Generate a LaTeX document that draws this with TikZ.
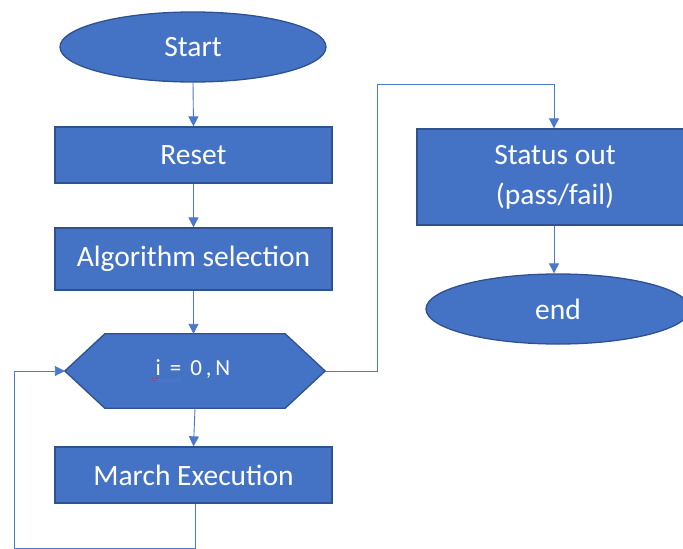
\documentclass[tikz,border=0pt]{standalone}
\usepackage{fontspec}
\setmainfont{Carlito}
\usetikzlibrary{shapes.geometric,arrows.meta}
\definecolor{fillblue}{HTML}{4472C4}
\definecolor{edgeblue}{HTML}{2F528F}
\definecolor{lineblue}{HTML}{4A78CA}
\tikzset{
  x=1pt,y=-1pt,
  box/.style={draw=edgeblue,line width=1.3pt,fill=fillblue,text=white,
    minimum width=277pt,inner sep=0pt,font=\fontsize{29.5}{40}\selectfont,align=center},
  oval/.style={ellipse,draw=edgeblue,line width=1.3pt,fill=fillblue,text=white,
    inner sep=0pt,font=\fontsize{29.5}{40}\selectfont},
  conn/.style={draw=lineblue,line width=0.9pt,-{Triangle[width=10pt,length=10pt]}},
}
\begin{document}
\begin{tikzpicture}
\useasboundingbox (0,0) rectangle (683,549);
\clip (0,0) rectangle (683,549);
\node[oval,minimum width=266pt,minimum height=70pt] (start) at (193,47) {Start};
\node[box,minimum height=56pt] (reset) at (193.5,155) {Reset};
\node[box,minimum height=62pt] (algo) at (193.5,259) {Algorithm selection};
% hexagon
\node[minimum width=260pt,minimum height=74pt,inner sep=0pt] (hex) at (195,371) {};
\draw[draw=edgeblue,line width=1.3pt,fill=fillblue]
  (hex.west) -- ([xshift=40pt]hex.north west) -- ([xshift=-40pt]hex.north east)
  -- (hex.east) -- ([xshift=-40pt]hex.south east) -- ([xshift=40pt]hex.south west) -- cycle;
\node[text=white,font=\fontsize{23}{26}\selectfont,inner sep=0pt] (hextext) at (193,369) {i\,\ =\ \,0\,,\,N};
\draw[red,line width=0.6pt] (152,378) .. controls (153,381) and (156,381) .. (157,378);
\draw[lineblue,line width=0.6pt] (152,379.5) -- (182,379.5) (157,381.5) -- (182,381.5);
\node[box,minimum height=56pt] (march) at (193.5,475) {March Execution};
\node[box,minimum width=276pt,minimum height=96pt] (status) at (555,177) {Status out\\(pass/fail)};
\node[oval,minimum width=264pt,minimum height=70pt] (end) at (558,309) {end};
\coordinate (l1) at (195,548);
\coordinate (l2) at (14,548);
\coordinate (l3) at (14,371);
\coordinate (r1) at (377,371);
\coordinate (r2) at (377,84);
\coordinate (r3) at (554,84);
\draw[conn] (start.south) -- (reset.north);
\draw[conn] (reset.south) -- (algo.north);
\draw[conn] (algo.south) -- (algo.south |- hex.north);
\draw[conn] (hex.south) -- (march.north);
\draw[conn] (march.south -| l1) -- (l1) -- (l2) -- (l3) -- (hex.west);
\draw[conn] (hex.east) -- (r1) -- (r2) -- (r3) -- (r3 |- status.north);
\draw[conn] (status.south -| r3) -- (r3 |- end.north);
\end{tikzpicture}
\end{document}
